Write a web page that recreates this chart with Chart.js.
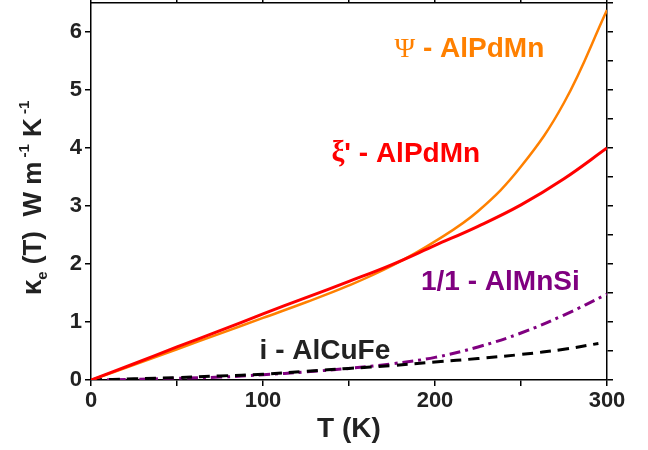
<!DOCTYPE html>
<html>
<head>
<meta charset="utf-8">
<script src="https://cdn.jsdelivr.net/npm/chart.js@4"></script>
<style>
html,body{margin:0;padding:0;background:#fff;}
#wrap{width:648px;height:450px;}
</style>
</head>
<body>
<div id="wrap"><canvas id="c" width="648" height="450"></canvas></div>
<script>
// ---- data ----
const temps = [0, 25, 50, 75, 100, 125, 150, 175, 200, 225, 250, 275, 300];
const tempsAlCuFe = [0, 25, 50, 75, 100, 125, 150, 175, 200, 225, 250, 275, 295];
const xiAlPdMn  = [0, 0.28, 0.57, 0.85, 1.14, 1.42, 1.70, 1.99, 2.32, 2.65, 3.02, 3.47, 4.00];
const psiAlPdMn = [0, 0.26, 0.53, 0.80, 1.07, 1.34, 1.63, 1.97, 2.39, 2.91, 3.68, 4.78, 6.38];
const alMnSi    = [0, 0.01, 0.03, 0.05, 0.09, 0.14, 0.20, 0.28, 0.39, 0.57, 0.81, 1.12, 1.48];
const alCuFe    = [0, 0.02, 0.04, 0.07, 0.10, 0.15, 0.20, 0.25, 0.31, 0.37, 0.44, 0.53, 0.63];
const seriesNames = ["ξ' - AlPdMn", "Ψ - AlPdMn", "1/1 - AlMnSi", "i - AlCuFe"];
const xTickLabels = [0, 100, 200, 300];
const yTickLabels = [0, 1, 2, 3, 4, 5, 6];

const pts = (xs, ys) => xs.map((x, i) => ({x: x, y: ys[i]}));

const FONT = "'Liberation Sans', Arial, sans-serif";
const SERIF = "'Liberation Serif', 'Times New Roman', serif";

const labelPlugin = {
  id: 'labels',
  afterDatasetsDraw(chart) {
    const ctx = chart.ctx;
    const xs = chart.scales.x, ys = chart.scales.y;
    const sans = "bold 28px " + FONT;
    const items = [
      {parts: [[seriesNames[1].slice(0, 1), "28px " + SERIF], [seriesNames[1].slice(1), sans]], x: 220, y: 5.70, c: '#FF8000'},
      {parts: [[seriesNames[0].slice(0, 1), "bold 29px " + SERIF], [seriesNames[0].slice(1), sans]], x: 183, y: 3.90, c: '#FF0000'},
      {parts: [[seriesNames[2], sans]], x: 238, y: 1.68, c: '#800080'},
      {parts: [[seriesNames[3], sans]], x: 136, y: 0.50, c: '#222222'}
    ];
    ctx.save();
    ctx.textAlign = 'left';
    ctx.textBaseline = 'middle';
    items.forEach(it => {
      ctx.fillStyle = it.c;
      let w = 0;
      it.parts.forEach(p => { ctx.font = p[1]; p.w = ctx.measureText(p[0]).width; w += p.w; });
      let x = xs.getPixelForValue(it.x) - w / 2;
      const y = ys.getPixelForValue(it.y);
      it.parts.forEach(p => { ctx.font = p[1]; ctx.fillText(p[0], x, y); x += p.w; });
    });
    ctx.restore();

    // y axis title with sub/superscripts
    ctx.save();
    ctx.translate(41, 198);
    ctx.rotate(-Math.PI / 2);
    ctx.fillStyle = '#222222';
    ctx.textBaseline = 'alphabetic';
    const parts = [
      {t: 'κ', s: 28, dy: 0},
      {t: 'e', s: 15, dy: 6},
      {t: ' (T)  W m', s: 26, dy: 0},
      {t: ' -1', s: 15, dy: -12},
      {t: ' K', s: 26, dy: 0},
      {t: ' -1', s: 15, dy: -12}
    ];
    let total = 0;
    parts.forEach(p => { ctx.font = "bold " + p.s + "px " + FONT; p.w = ctx.measureText(p.t).width; total += p.w; });
    let x = -total / 2;
    parts.forEach(p => {
      ctx.font = "bold " + p.s + "px " + FONT;
      ctx.fillText(p.t, x, p.dy);
      x += p.w;
    });
    ctx.restore();
  }
};

const tickFont = {family: FONT, size: 22, weight: 'bold'};
const axisCommon = {
  grid: {drawOnChartArea: false, color: '#000', lineWidth: 1.5, tickLength: 6},
  border: {color: '#000', width: 1.5}
};
const zeroPad = s => { s.paddingTop = 0; s.paddingBottom = 0; s.paddingLeft = 0; s.paddingRight = 0; };

new Chart(document.getElementById('c'), {
  type: 'scatter',
  data: {
    datasets: [
      {label: seriesNames[0], data: pts(temps, xiAlPdMn), borderColor: '#FF0000', borderWidth: 3},
      {label: seriesNames[1], data: pts(temps, psiAlPdMn), borderColor: '#FF8000', borderWidth: 2.5},
      {label: seriesNames[3], data: pts(tempsAlCuFe, alCuFe), borderColor: '#000000', borderWidth: 3, borderDash: [11, 7]},
      {label: seriesNames[2], data: pts(temps, alMnSi), borderColor: '#800080', borderWidth: 3, borderDash: [11, 5, 3, 5]}
    ].map(d => Object.assign(d, {showLine: true, pointRadius: 0, tension: 0.4, fill: false}))
  },
  options: {
    responsive: false,
    animation: false,
    layout: {padding: 0},
    plugins: {legend: {display: false}, tooltip: {enabled: false}},
    scales: {
      x: Object.assign({}, axisCommon, {
        type: 'linear', position: 'bottom', min: 0, max: 300,
        ticks: {stepSize: 50, color: '#222', font: tickFont, maxRotation: 0, padding: 2,
          callback: v => xTickLabels.includes(v) ? String(v) : ''},
        title: {display: true, text: 'T (K)', color: '#222', font: {family: FONT, size: 28, weight: 'bold'}, padding: {top: 0}},
        afterFit: s => { s.height = 70; zeroPad(s); }
      }),
      x2: Object.assign({}, axisCommon, {
        type: 'linear', position: 'top', min: 0, max: 300,
        ticks: {stepSize: 50, display: false},
        afterFit: s => { s.height = 3; zeroPad(s); }
      }),
      y: Object.assign({}, axisCommon, {
        type: 'linear', position: 'left', min: 0, max: 6.5,
        ticks: {stepSize: 0.5, color: '#222', font: tickFont, padding: 3,
          callback: v => yTickLabels.includes(v) ? String(v) : ''},
        afterFit: s => { s.width = 91; zeroPad(s); }
      }),
      y2: Object.assign({}, axisCommon, {
        type: 'linear', position: 'right', min: 0, max: 6.5,
        ticks: {stepSize: 0.5, display: false},
        afterFit: s => { s.width = 41; zeroPad(s); }
      })
    }
  },
  plugins: [labelPlugin]
});
</script>
</body>
</html>
